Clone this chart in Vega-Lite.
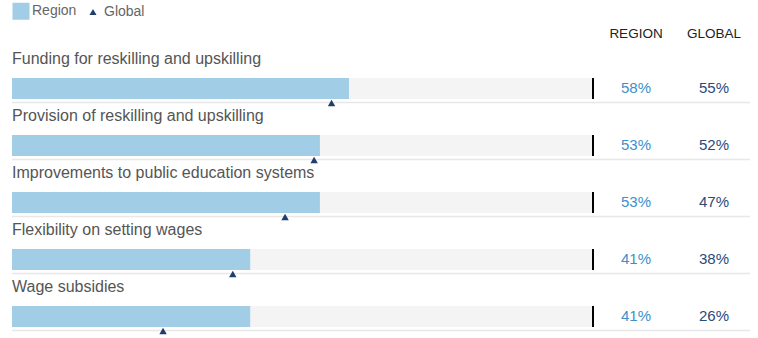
{
  "$schema": "https://vega.github.io/schema/vega-lite/v6.json",
  "width": 738,
  "height": 285,
  "autosize": {"type": "none"},
  "padding": {"left": 12, "top": 45, "right": 8, "bottom": 8},
  "config": {"view": {"stroke": null}, "font": "Liberation Sans"},
  "data": {"values": [
    {"category": "Funding for reskilling and upskilling", "series": "Region", "value": 0.58},
    {"category": "Funding for reskilling and upskilling", "series": "Global", "value": 0.55},
    {"category": "Provision of reskilling and upskilling", "series": "Region", "value": 0.53},
    {"category": "Provision of reskilling and upskilling", "series": "Global", "value": 0.52},
    {"category": "Improvements to public education systems", "series": "Region", "value": 0.53},
    {"category": "Improvements to public education systems", "series": "Global", "value": 0.47},
    {"category": "Flexibility on setting wages", "series": "Region", "value": 0.41},
    {"category": "Flexibility on setting wages", "series": "Global", "value": 0.38},
    {"category": "Wage subsidies", "series": "Region", "value": 0.41},
    {"category": "Wage subsidies", "series": "Global", "value": 0.26}
  ]},
  "encoding": {
    "y": {"field": "category", "type": "nominal", "sort": null, "scale": {"paddingInner": 0, "paddingOuter": 0}, "axis": null}
  },
  "layer": [
    {
      "layer": [
        {
          "transform": [{"filter": "datum.series === 'Region'"}],
          "mark": {"type": "rule", "color": "#e8e8e8", "strokeWidth": 1.5, "yOffset": 29},
          "encoding": {}
        },
        {
          "transform": [{"filter": "datum.series === 'Region'"}],
          "mark": {"type": "bar", "height": 21, "yOffset": 15, "color": "#f4f4f4"},
          "encoding": {
            "x": {"datum": 1, "type": "quantitative", "scale": {"domain": [0, 1], "range": [0, 581]}, "axis": null}
          }
        },
        {
          "transform": [{"filter": "datum.series === 'Region'"}],
          "mark": {"type": "bar", "height": 21, "yOffset": 15},
          "encoding": {
            "x": {"field": "value", "type": "quantitative"},
            "color": {
              "field": "series", "type": "nominal",
              "scale": {"domain": ["Region", "Global"], "range": ["#a2cde6", "#1f3d6d"]},
              "legend": {
                "title": null, "orient": "none", "legendX": 2, "legendY": -41,
                "direction": "horizontal", "symbolSize": 289, "symbolType": "square",
                "labelFontSize": 14, "labelColor": "#666", "labelFont": "Liberation Sans",
                "columnPadding": 9, "labelOffset": 4, "symbolStrokeWidth": 0, "symbolOpacity": 1,
                "encode": {"symbols": {"update": {
                  "shape": {"signal": "datum.value === 'Region' ? 'square' : 'triangle-up'"},
                  "size": {"signal": "datum.value === 'Region' ? 289 : 50"}
                }}}
              }
            }
          }
        },
        {
          "transform": [{"filter": "datum.series === 'Region'"}],
          "mark": {"type": "tick", "color": "#000", "thickness": 2, "size": 21, "yOffset": 15, "opacity": 1},
          "encoding": {"x": {"datum": 1, "type": "quantitative"}}
        },
        {
          "transform": [{"filter": "datum.series === 'Global'"}],
          "mark": {"type": "point", "shape": "triangle-up", "filled": true, "size": 55, "opacity": 1, "yOffset": 29.5},
          "encoding": {
            "x": {"field": "value", "type": "quantitative"},
            "color": {"field": "series", "type": "nominal"}
          }
        },
        {
          "transform": [{"filter": "datum.series === 'Region'"}],
          "mark": {"type": "text", "align": "left", "baseline": "middle", "yOffset": -15, "fontSize": 16, "color": "#555"},
          "encoding": {
            "x": {"datum": 0, "type": "quantitative"},
            "text": {"field": "category"}
          }
        }
      ]
    },
    {
      "mark": {"type": "text", "baseline": "middle", "yOffset": 14, "fontSize": 15},
      "encoding": {
        "x": {
          "field": "series", "type": "nominal",
          "scale": {"type": "band", "domain": ["Region", "Global"], "range": [585, 741], "paddingInner": 0, "paddingOuter": 0},
          "axis": {"orient": "top", "title": null, "domain": false, "ticks": false, "tickSize": 0, "labelPadding": 5,
                   "labelFontSize": 13.5, "labelColor": "#222", "labelAngle": 0, "labelExpr": "upper(datum.label)", "labelFont": "Liberation Sans"}
        },
        "text": {"field": "value", "type": "quantitative", "format": ".0%"},
        "color": {"condition": {"test": "datum.series === 'Region'", "value": "#3d8fca"}, "value": "#2a4a7b"}
      }
    }
  ],
  "resolve": {"scale": {"x": "independent"}, "axis": {"x": "independent"}}
}
